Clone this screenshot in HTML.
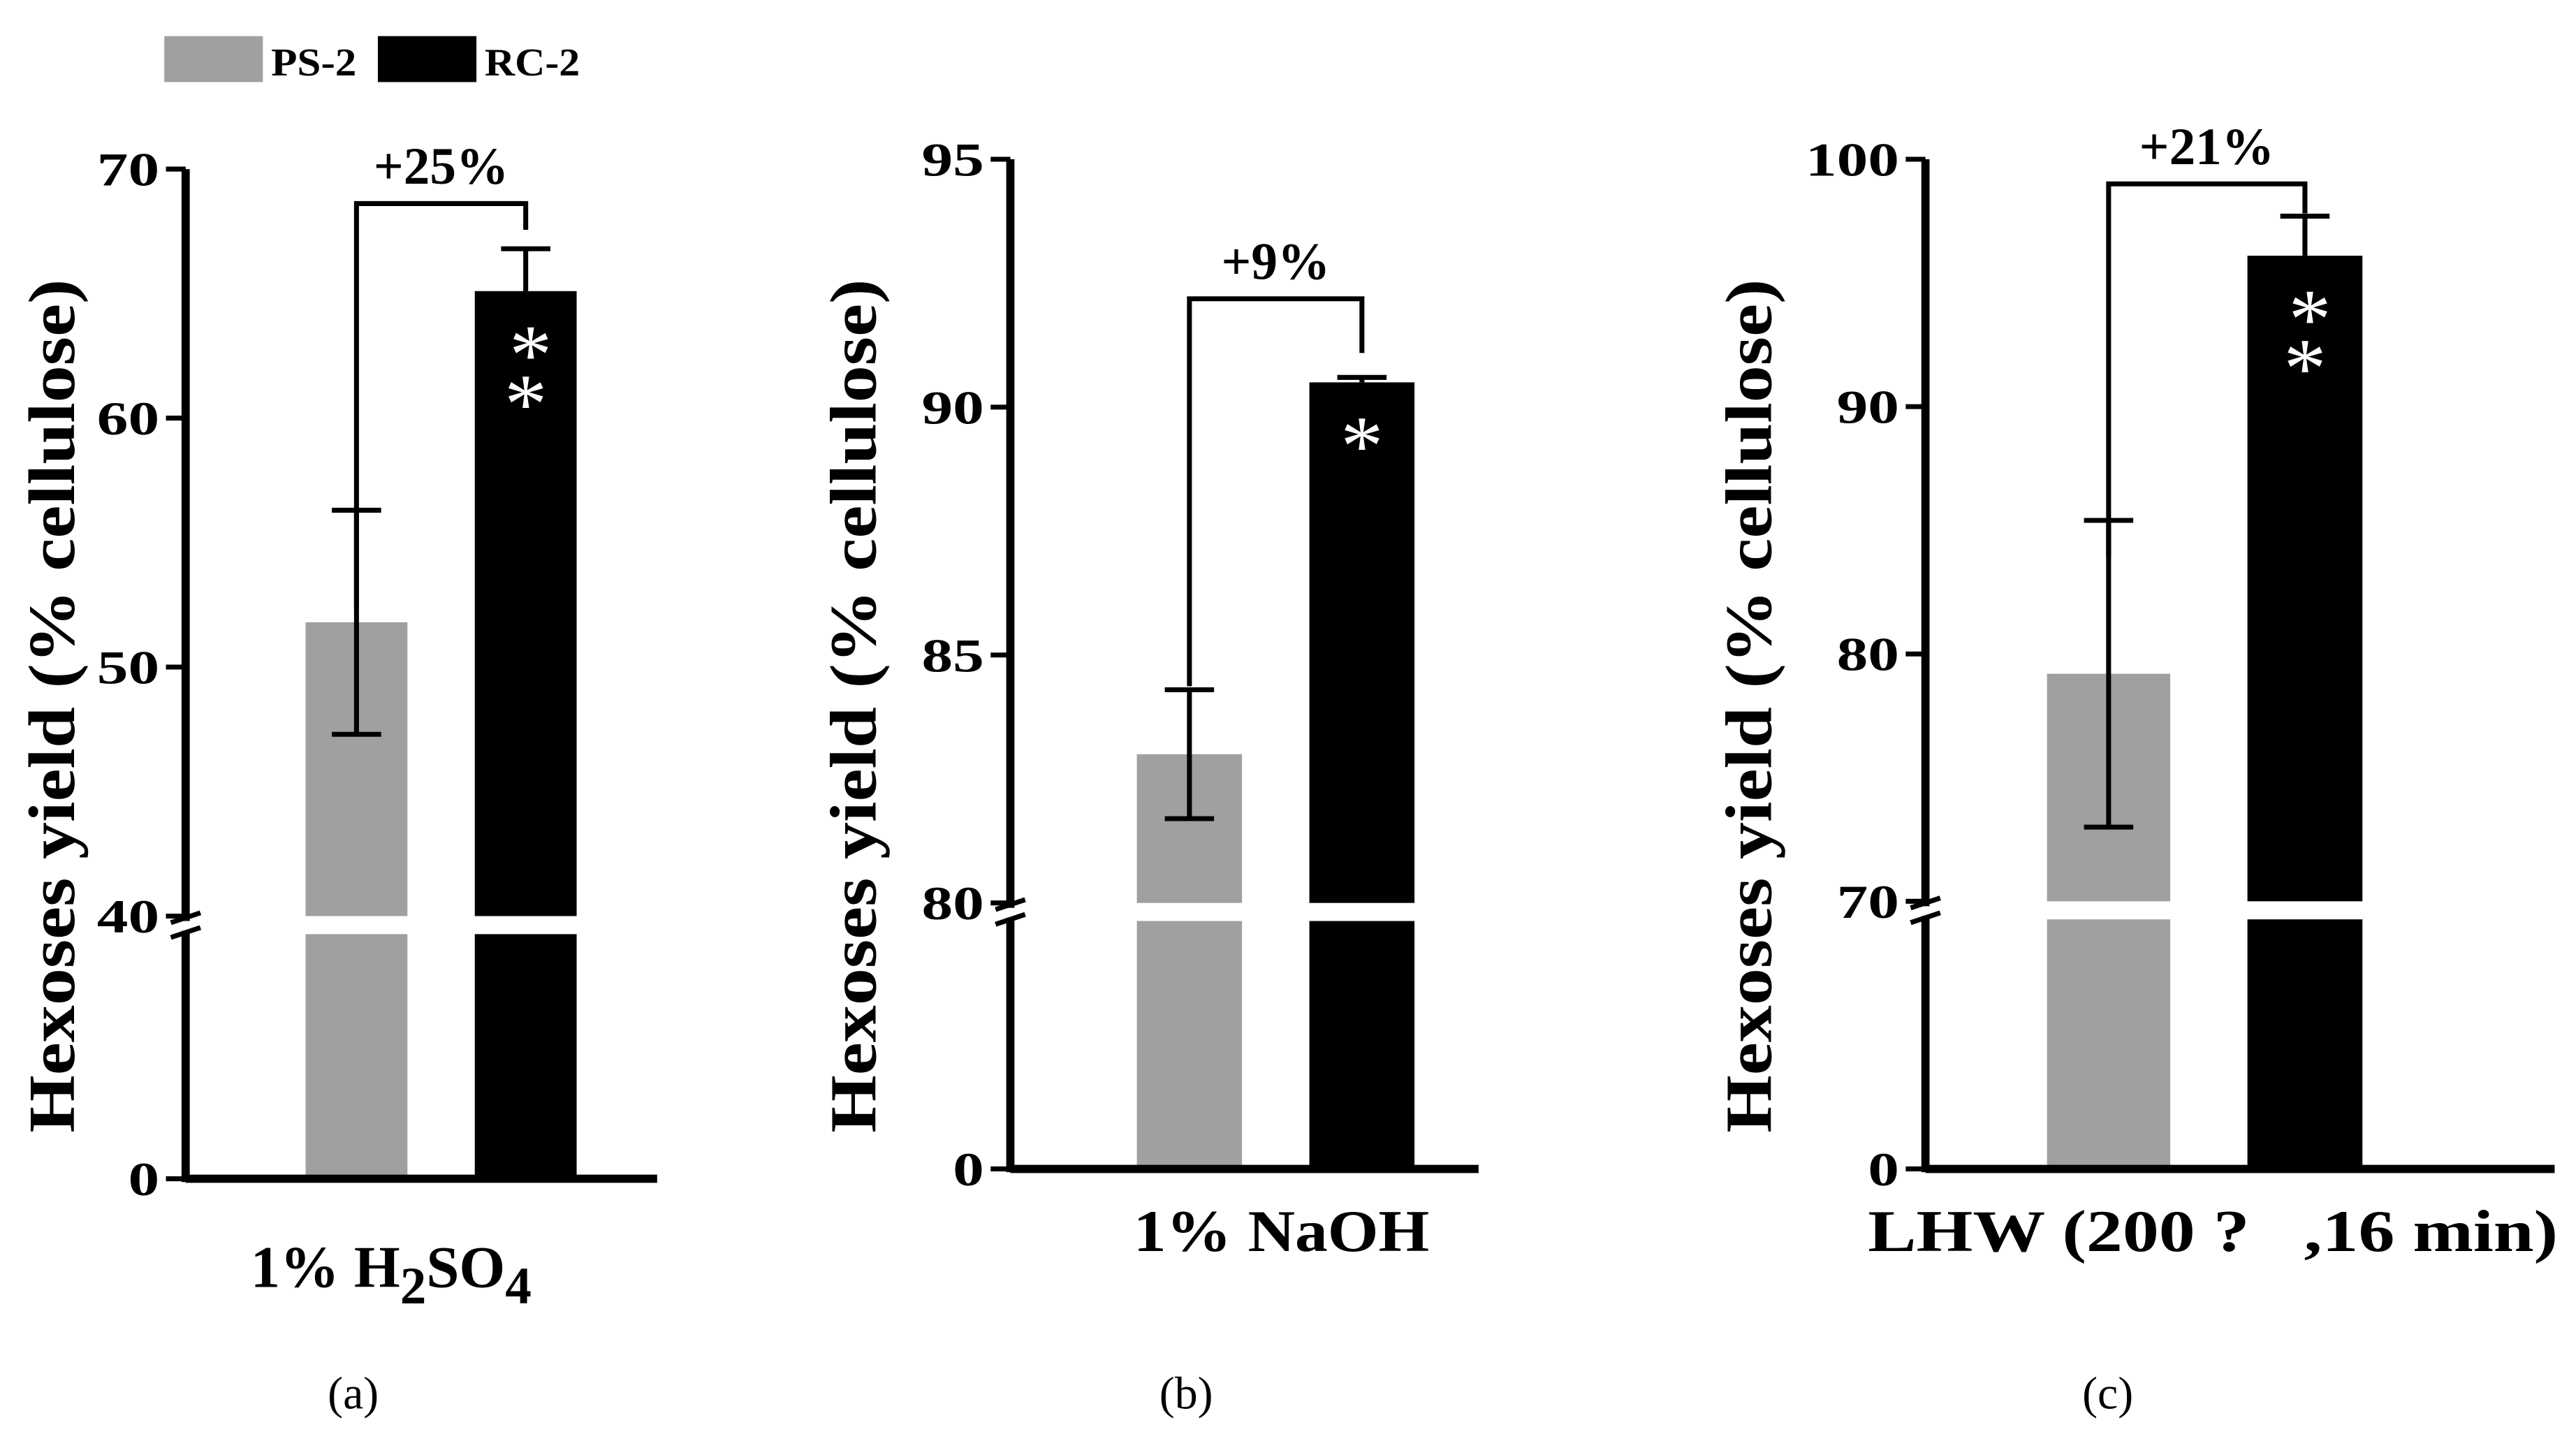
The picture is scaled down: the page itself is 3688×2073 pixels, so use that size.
<!DOCTYPE html>
<html><head><meta charset="utf-8"><style>
html,body{margin:0;padding:0;background:#fff;}
svg{display:block;}
text{font-family:"Liberation Serif",serif;font-weight:bold;fill:#000;}
</style></head><body>
<svg id="chart" width="3688" height="2073" viewBox="0 0 1568 882" preserveAspectRatio="none" xmlns="http://www.w3.org/2000/svg">
<g>
<rect x="100" y="22" width="60" height="28" fill="#a0a0a0"/>
<text x="165" y="46" font-size="24" textLength="52" lengthAdjust="spacingAndGlyphs">PS-2</text>
<rect x="230" y="22" width="60" height="28" fill="#000"/>
<text x="295" y="46" font-size="24" textLength="58" lengthAdjust="spacingAndGlyphs">RC-2</text>
</g>
</svg>
<script>
const panelNames = ["a","b","c"];
const psValues = [51.8, 83.0, 79.2];
const rcValues = [65.1, 90.5, 96.1];
const psErr = [4.5, 1.3, 6.2];
const rcErr = [1.7, 0.1, 1.6];
const breakValues = [40, 80, 70];
const tickLabelsA = [0, 40, 50, 60, 70];
const tickLabelsB = [0, 80, 85, 90, 95];
const tickLabelsC = [0, 70, 80, 90, 100];
const diffLabels = ["+25%", "+9%", "+21%"];
const sigMarks = [2, 1, 2];

const layouts = [
 {ax:113, y0:718, yBreak:558, yTop:103, top:70, gap:11, xEnd:400, gx:186, gw:62, bx:289, bw:62, ylx:32, brTop:124, brR:140, brL:370, catx:238, catw:185, lab:"(a)", labx:215},
 {ax:615, y0:712, yBreak:550, yTop:97, top:95, gap:11, xEnd:900, gx:692, gw:64, bx:797, bw:64, ylx:520, brTop:182, brR:215, brL:418, catx:780, catw:180, lab:"(b)", labx:722},
 {ax:1172, y0:712, yBreak:549, yTop:97, top:100, gap:11, xEnd:1555, gx:1246, gw:75, bx:1368, bw:70, ylx:1065, brTop:112, brR:130, brL:339, catx:1347, catw:420, lab:"(c)", labx:1283}
];
const tickSets = [tickLabelsA, tickLabelsB, tickLabelsC];
const NS = "http://www.w3.org/2000/svg";
const svg = document.getElementById("chart");
function mk(tag, attrs, parent){const e=document.createElementNS(NS,tag);for(const k in attrs)e.setAttribute(k,attrs[k]);(parent||svg).appendChild(e);return e;}

panelNames.forEach((p,i)=>{
 const L = layouts[i], bv = breakValues[i];
 const lowTop = L.yBreak + L.gap;
 const yScale = v => v >= bv ? L.yBreak - (v-bv)*(L.yBreak-L.yTop)/(L.top-bv) : L.y0 - v*(L.y0-lowTop)/bv;
 const g = mk("g",{});
 
 
 [[psValues[i],L.gx,L.gw,"#a0a0a0","ps2"],[rcValues[i],L.bx,L.bw,"#000","rc2"]].forEach(([v,x,w,c,n])=>{
  const r1 = mk("rect",{x:x,y:yScale(v),width:w,height:L.yBreak-yScale(v),fill:c},g);
  
  
  const r2 = mk("rect",{x:x,y:lowTop,width:w,height:L.y0-lowTop,fill:c},g);
  
  
 });
 [[psValues[i],psErr[i],L.gx+L.gw/2],[rcValues[i],rcErr[i],L.bx+L.bw/2]].forEach(([v,e,cx],k)=>{
  const eg = mk("g",{stroke:"#000","stroke-width":3},g);
  
  
  const lo = k==0 ? v-e : v;
  mk("line",{x1:cx,x2:cx,y1:yScale(v+e),y2:yScale(lo)},eg);
  mk("line",{x1:cx-15,x2:cx+15,y1:yScale(v+e),y2:yScale(v+e)},eg);
  if(k==0) mk("line",{x1:cx-15,x2:cx+15,y1:yScale(v-e),y2:yScale(v-e)},eg);
 });
 const ax = mk("g",{stroke:"#000","stroke-width":5,fill:"none"},g);
 
 
 mk("line",{x1:L.ax,x2:L.ax,y1:L.yTop,y2:L.yBreak+3},ax);
 mk("line",{x1:L.ax,x2:L.ax,y1:lowTop-2,y2:L.y0+2},ax);
 mk("line",{x1:L.ax-9,x2:L.ax+9,y1:L.yBreak+4,y2:L.yBreak-2,"stroke-width":3},ax);
 mk("line",{x1:L.ax-9,x2:L.ax+9,y1:lowTop+2,y2:lowTop-4,"stroke-width":3},ax);
 const xa = mk("line",{x1:L.ax,x2:L.xEnd,y1:L.y0,y2:L.y0,stroke:"#000","stroke-width":5},g);
 
 
 tickSets[i].forEach(t=>{
  const y = yScale(t);
  mk("line",{x1:L.ax-12,x2:L.ax,y1:y,y2:y,stroke:"#000","stroke-width":3},g);
  const s = String(t);
  const tx = mk("text",{x:L.ax-16,y:y+10,"font-size":29,"text-anchor":"end",textLength:s.length*19,lengthAdjust:"spacingAndGlyphs"},g);
  
  
  tx.textContent = s;
 });
 const yt = mk("text",{x:0,y:0,"font-size":40,"text-anchor":"middle",textLength:520,lengthAdjust:"spacingAndGlyphs",transform:`translate(${L.ylx+13},430) rotate(-90)`},g);
 
 
 yt.textContent = "Hexoses yield (% cellulose)";
 const gc = L.gx+L.gw/2, bc = L.bx+L.bw/2;
 const br = mk("polyline",{points:`${gc},${L.brL} ${gc},${L.brTop} ${bc},${L.brTop} ${bc},${L.brR}`,fill:"none",stroke:"#000","stroke-width":3},g);
 
 
 const dl = mk("text",{x:(gc+bc)/2,y:L.brTop-12,"font-size":32,"text-anchor":"middle"},g);
 
 
 dl.textContent = diffLabels[i];
 for(let s=0;s<sigMarks[i];s++){
  const st = mk("text",{x:bc+(sigMarks[i]>1&&s==0?3:0),y:yScale(rcValues[i])+56+s*30,"font-size":52,"text-anchor":"middle",style:"fill:#fff;font-weight:normal"},g);
  
  
  st.textContent = "*";
 }
 const cl = mk("text",{x:L.catx,y:L.y0+50,"font-size":36,"text-anchor":"middle",textLength:L.catw,lengthAdjust:"spacingAndGlyphs"},g);
 
 
 cl.setAttribute("xml:space","preserve");
 cl.style.whiteSpace="pre";
 if(i==0){cl.removeAttribute("textLength");cl.setAttribute("y",L.y0+66);cl.innerHTML='1% H<tspan font-size="32" dy="10">2</tspan><tspan dy="-10">SO</tspan><tspan font-size="32" dy="10">4</tspan>';}
 else if(i==1) cl.textContent="1% NaOH";
 else cl.textContent="LHW (200 ?   ,16 min)";
 const pl = mk("text",{x:L.labx,y:858,"font-size":28,"text-anchor":"middle",style:"font-weight:normal"},g);
 
 
 pl.textContent = L.lab;
});
</script>
</body></html>
